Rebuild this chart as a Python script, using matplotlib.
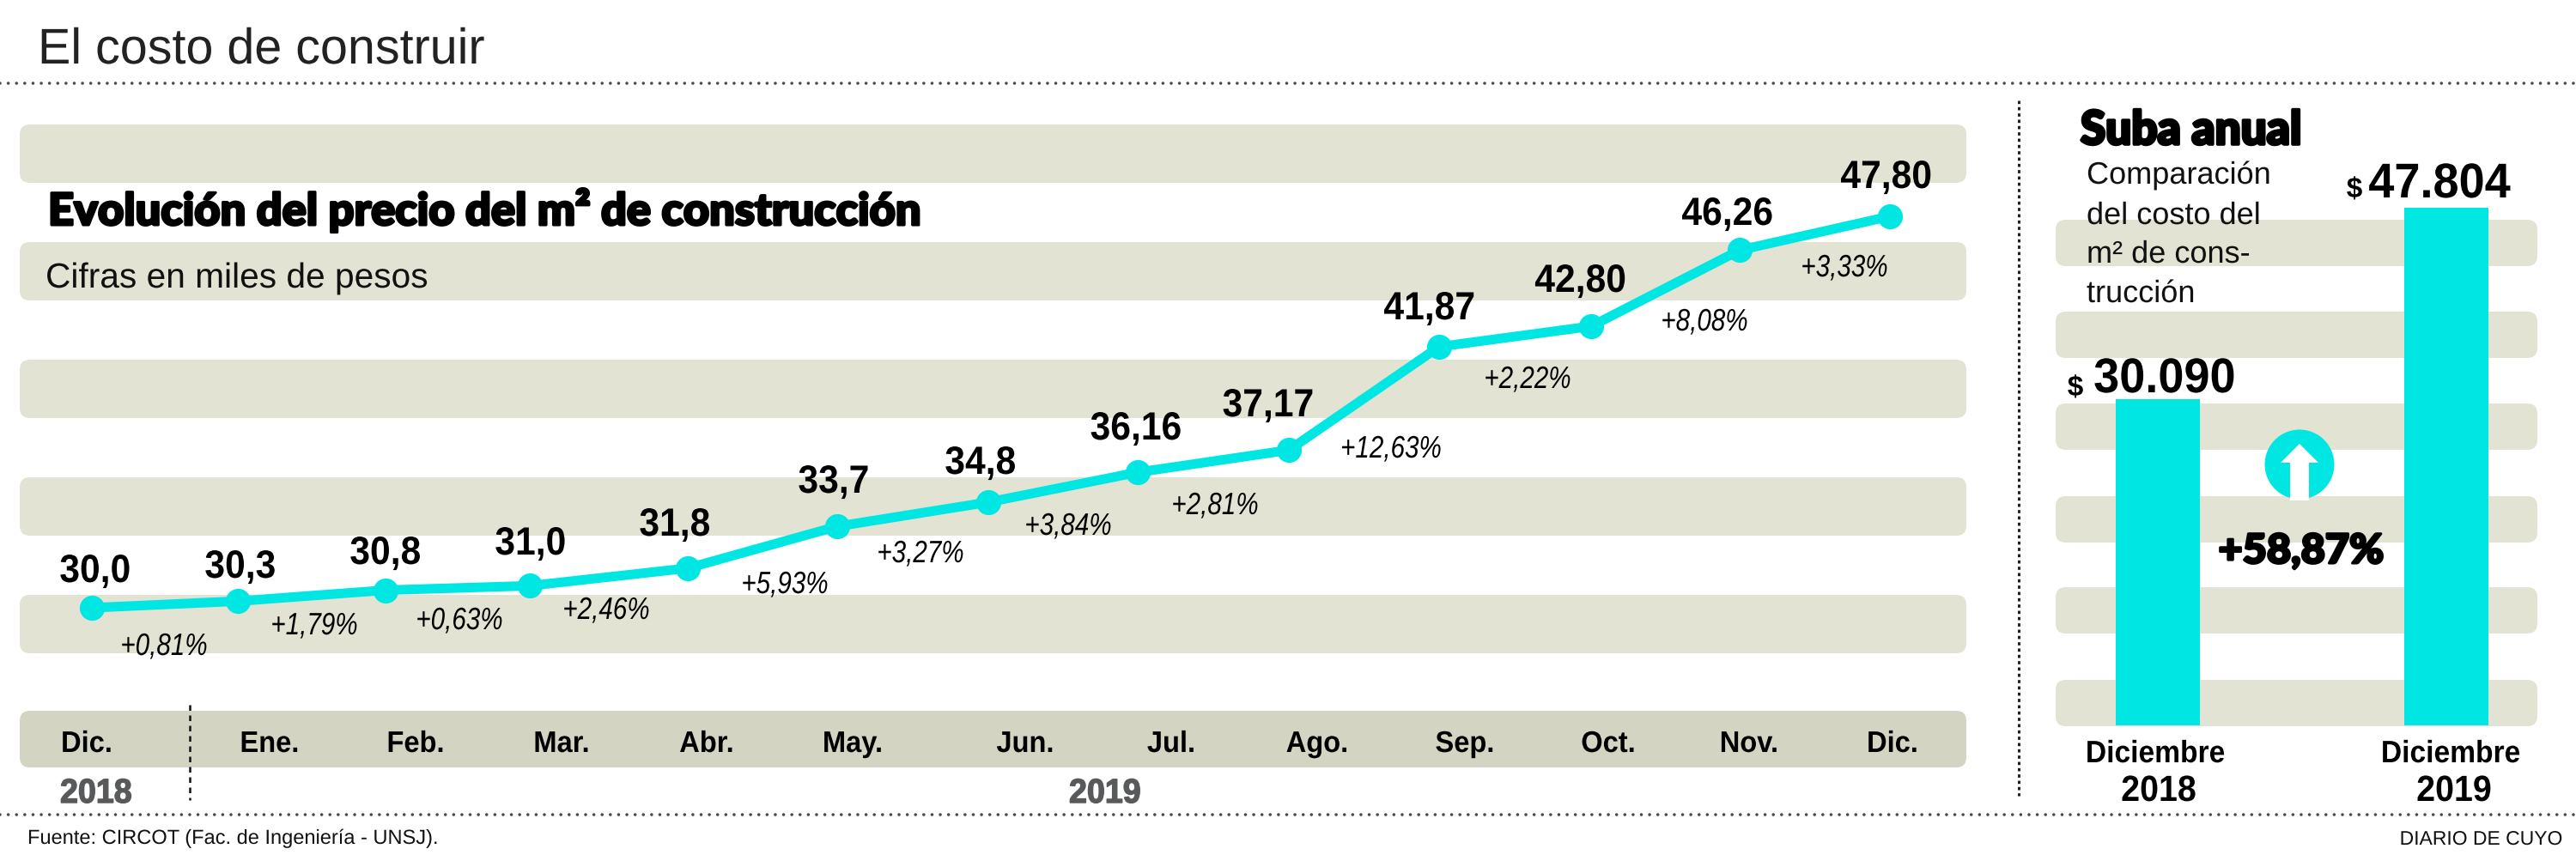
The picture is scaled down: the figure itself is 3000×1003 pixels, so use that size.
#!/usr/bin/env python3
import matplotlib

matplotlib.use("Agg")
import matplotlib.patheffects as pe
import matplotlib.pyplot as plt
from matplotlib.patches import Circle, FancyBboxPatch, Polygon
from matplotlib.transforms import Affine2D

# data
months = ["Dic.", "Ene.", "Feb.", "Mar.", "Abr.", "May.", "Jun.", "Jul.", "Ago.", "Sep.", "Oct.", "Nov.", "Dic."]
price = [30.0, 30.3, 30.8, 31.0, 31.8, 33.7, 34.8, 36.16, 37.17, 41.87, 42.80, 46.26, 47.80]
price_labels = ["30,0", "30,3", "30,8", "31,0", "31,8", "33,7", "34,8", "36,16", "37,17", "41,87", "42,80", "46,26", "47,80"]
changes = ["+0,81%", "+1,79%", "+0,63%", "+2,46%", "+5,93%", "+3,27%", "+3,84%", "+2,81%", "+12,63%", "+2,22%", "+8,08%", "+3,33%"]
bar_names = ["Diciembre", "Diciembre"]
bar_years = ["2018", "2019"]
bar_values = [30090, 47804]
bar_labels = ["30.090", "47.804"]

# layout, in pixels of the 3000x1004 picture
W, H = 3000, 1004
month_pos = [107, 277, 449, 617, 801, 975, 1151, 1325, 1501, 1676, 1853, 2026, 2201]
value_pos = [(111, 679), (280, 674), (449, 658), (618, 647), (786, 625), (971, 575), (1142, 553), (1323, 513),
             (1477, 486), (1665, 373), (1841, 341), (2012, 263), (2197, 220)]
change_pos = [(191, 764), (366, 740), (535, 734), (706, 722), (914, 692), (1072, 656), (1244, 624), (1415, 600),
              (1620, 534), (1779, 453), (1985, 386), (2148, 323)]
month_x = [101, 314, 484, 654, 823, 993, 1194, 1364, 1534, 1706, 1873, 2037, 2204]

CYAN = "#00E6E3"
BAND = "#E2E3D3"
BAND_DARK = "#D3D4C2"
INK = "#111111"
SANS = "Liberation Sans"
HEAVY = ["Lato", "Liberation Sans"]


class Shape(pe.AbstractPathEffect):
    """Squeeze a text sideways and thicken its strokes, it stays a normal text."""

    def __init__(self, sx=1.0, stroke=0.0, centre=True):
        super().__init__()
        self.sx = sx
        self.stroke = stroke
        self.centre = centre

    def draw_path(self, renderer, gc, tpath, affine, rgbFace=None):
        mid = 0.0
        if self.centre:
            ext = tpath.get_extents()
            mid = (ext.x0 + ext.x1) / 2
        tr = Affine2D().translate(-mid, 0).scale(self.sx, 1).translate(mid, 0) + affine
        gc0 = renderer.new_gc()
        gc0.copy_properties(gc)
        gc0.set_linewidth(self.stroke)
        if self.stroke:
            gc0.set_foreground(rgbFace)
            gc0.set_joinstyle("round")
        renderer.draw_path(gc0, tpath, tr, rgbFace)
        gc0.restore()


def px_axes(fig, left, right, top, bottom, zorder):
    ax = fig.add_axes([left / W, 1 - bottom / H, (right - left) / W, (bottom - top) / H], zorder=zorder)
    ax.patch.set_alpha(0)
    ax.axis("off")
    return ax


def band(ax, x0, x1, y0, y1, color=BAND):
    ax.add_patch(FancyBboxPatch((x0 + 12, y0 + 12), x1 - x0 - 24, y1 - y0 - 24,
                                boxstyle="round,pad=12,rounding_size=12", fc=color, ec="none"))


def main():
    fig = plt.figure(figsize=(W / 100, H / 100), dpi=100, facecolor="white")

    back = px_axes(fig, 0, W, 0, H, 0)
    back.set_xlim(0, W)
    back.set_ylim(H, 0)
    front = px_axes(fig, 0, W, 0, H, 3)
    front.set_xlim(0, W)
    front.set_ylim(H, 0)

    def label(x, y, s, size, family=SANS, sx=1.0, stroke=0.0, ha="center", **kw):
        kw.setdefault("color", "black")
        front.text(x, y, s, fontsize=size, family=family, ha=ha, va="baseline",
                   path_effects=[Shape(sx, stroke, ha == "center")], **kw)

    # bands
    for y0 in (146, 283, 420, 557, 694):
        band(back, 23, 2290, y0, y0 + 68)
    band(back, 23, 2290, 829, 895, BAND_DARK)
    for y0 in (257, 364, 471, 579, 685, 793):
        band(back, 2394, 2955, y0, y0 + 54)

    # dotted rules
    dots = dict(color="#4A4A4A", lw=2.6, linestyle=(0, (0.01, 2.65)), dash_capstyle="round")
    back.plot([0, W], [98, 98], **dots)
    back.plot([0, W], [950, 950], **dots)
    back.plot([2351, 2351], [118, 928], color="#222222", lw=2.2, linestyle=(0, (1.2, 1.2)))
    back.plot([221, 221], [822, 933], color="#111111", lw=1.8, linestyle=(0, (2.6, 2.2)))

    # line chart
    line_ax = px_axes(fig, month_pos[0], month_pos[-1], 253, 709, 1)
    line_ax.plot(month_pos, price, color=CYAN, lw=8, marker="o", ms=20, clip_on=False, solid_joinstyle="round")
    line_ax.set_xlim(month_pos[0], month_pos[-1])
    line_ax.set_ylim(price[0], price[-1])

    # bars
    bar_ax = px_axes(fig, 2513, 2849, 243, 846, 1)
    bar_ax.bar([0, 1], bar_values, width=0.292, color=CYAN, clip_on=False)
    bar_ax.set_xlim(0, 1)
    bar_ax.set_ylim(0, bar_values[1])

    # titles
    label(44, 75, "El costo de construir", 42, sx=0.985, ha="left", color="#222222")
    label(56, 263, "Evolución del precio del m² de construcción", 37, HEAVY, sx=1.02, stroke=2.2, ha="left", weight=900)
    label(53, 336, "Cifras en miles de pesos", 29.3, ha="left", color=INK)

    for (x, y), s in zip(value_pos, price_labels):
        label(x, y, s, 33, sx=0.93, weight="bold")
    for (x, y), s in zip(change_pos, changes):
        label(x, y, s, 26, sx=0.82, style="italic")
    for x, s in zip(month_x, months):
        label(x, 877, s, 25, sx=0.94, weight="bold")
    label(112, 936, "2018", 28.5, sx=0.95, stroke=1.0, weight="bold", color="#58595B")
    label(1287, 936, "2019", 28.5, sx=0.95, stroke=1.0, weight="bold", color="#58595B")

    # right panel
    label(2423, 169, "Suba anual", 39, HEAVY, sx=0.98, stroke=2.6, ha="left", weight=900)
    for y, s in zip((215, 262, 307, 353), ("Comparación", "del costo del", "m² de cons-", "trucción")):
        label(2430, y, s, 26, ha="left", color=INK)
    label(2417, 462, "$", 24, weight="bold")
    label(2521, 458, bar_labels[0], 41, sx=0.95, weight="bold")
    label(2742, 231, "$", 24, weight="bold")
    label(2841, 231, bar_labels[1], 41, sx=0.95, weight="bold")
    label(2680, 657, "+58,87%", 34, HEAVY, sx=1.03, stroke=2.2, weight=900)
    for x, name, year in zip((2510, 2854), bar_names, bar_years):
        label(x, 889, name, 26, sx=0.93, weight="bold")
        label(x + 4, 934, year, 30.5, sx=0.93, weight="bold")

    # circle with the arrow
    front.add_patch(Circle((2678, 542), 40.5, fc=CYAN, ec="none"))
    front.add_patch(Polygon([(2678, 518), (2700, 540), (2689, 540), (2689, 584), (2667, 584), (2667, 540), (2656, 540)],
                            fc="white", ec="none"))

    # footer
    label(32, 984, "Fuente: CIRCOT (Fac. de Ingeniería - UNSJ).", 17, ha="left", color=INK)
    label(2984, 985, "DIARIO DE CUYO", 16.5, ha="right", color=INK)

    fig.savefig("out.png", dpi=100)


if __name__ == "__main__":
    main()
